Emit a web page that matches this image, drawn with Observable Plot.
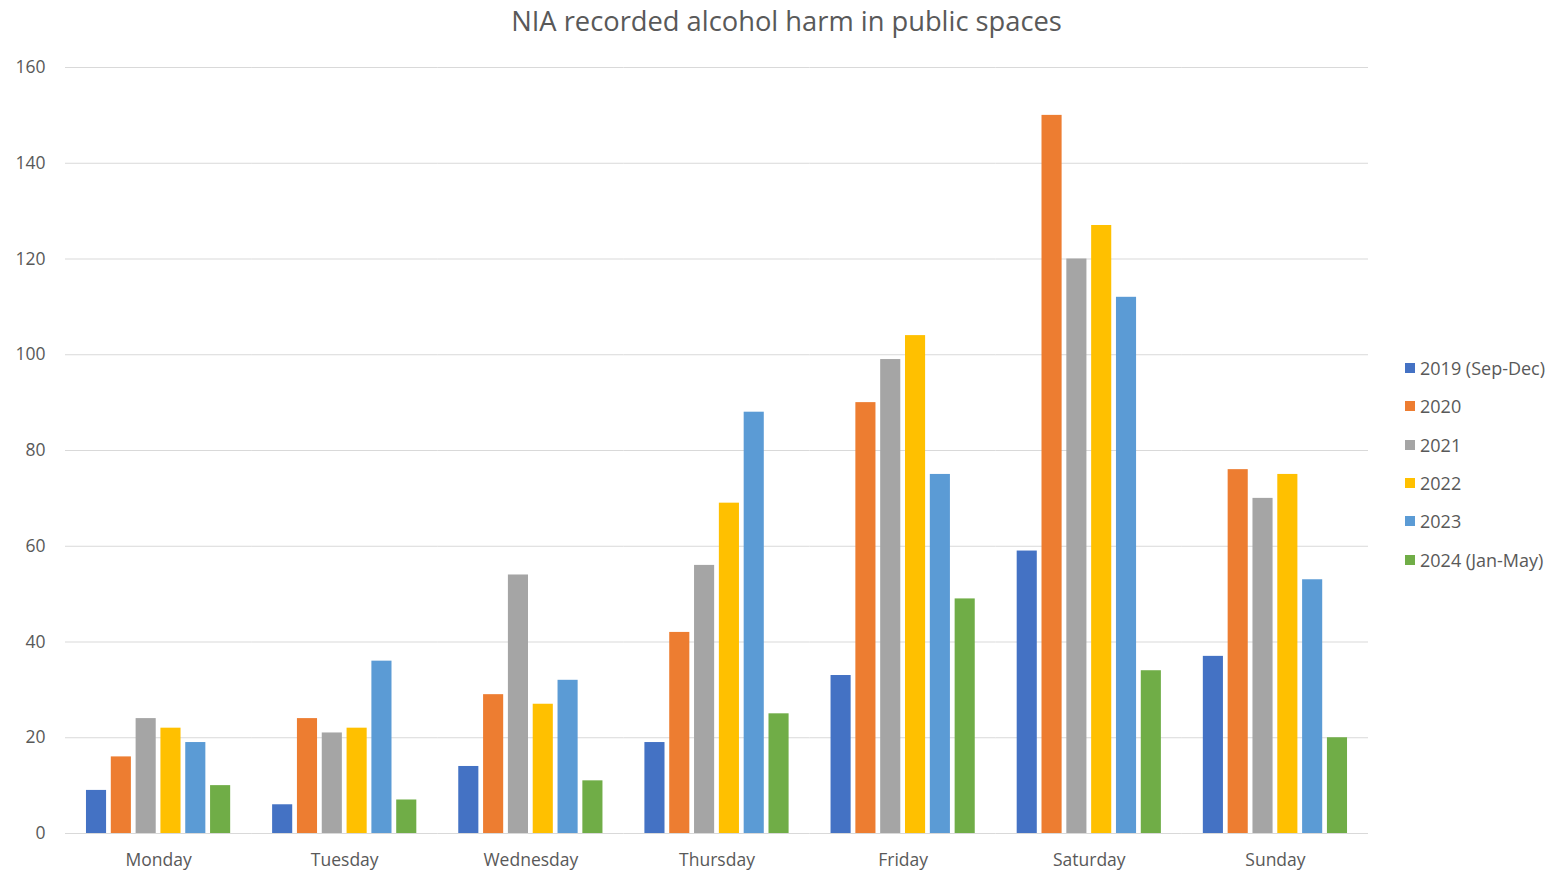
<!DOCTYPE html>
<html>
<head>
<meta charset="utf-8">
<script src="https://cdn.jsdelivr.net/npm/d3@7"></script>
<script src="https://cdn.jsdelivr.net/npm/@observablehq/plot@0.6"></script>
<style>
  body { margin: 0; background: #fff; font-family: "Open Sans", sans-serif; }
  #wrap { position: relative; width: 1553px; height: 872px; }
  #title { height: 45px; line-height: 41px; text-align: center; font-size: 27.3px; color: #595959; padding-left: 20px; }
  #legend { position: absolute; left: 1405px; top: 349px; font-size: 18px; color: #595959; }
  #legend .item { height: 38.3px; display: flex; align-items: center; }
  #legend .sw { width: 10px; height: 10px; margin-right: 5px; }
</style>
</head>
<body>
<div id="wrap">
  <div id="title">NIA recorded alcohol harm in public spaces</div>
  <div id="chart"></div>
  <div id="legend"></div>
</div>
<script>
const days = ["Monday", "Tuesday", "Wednesday", "Thursday", "Friday", "Saturday", "Sunday"];
const series = ["2019 (Sep-Dec)", "2020", "2021", "2022", "2023", "2024 (Jan-May)"];
const colors = ["#4472C4", "#ED7D31", "#A5A5A5", "#FFC000", "#5B9BD5", "#70AD47"];
const v2019 = [9, 6, 14, 19, 33, 59, 37];
const v2020 = [16, 24, 29, 42, 90, 150, 76];
const v2021 = [24, 21, 54, 56, 99, 120, 70];
const v2022 = [22, 22, 27, 69, 104, 127, 75];
const v2023 = [19, 36, 32, 88, 75, 112, 53];
const v2024 = [10, 7, 11, 25, 49, 34, 20];
const yTicks = [0, 20, 40, 60, 80, 100, 120, 140, 160];

const allValues = [v2019, v2020, v2021, v2022, v2023, v2024];
const data = [];
days.forEach((d, i) => {
  series.forEach((s, j) => data.push({day: d, series: s, value: allValues[j][i]}));
});

const chart = Plot.plot({
  width: 1553,
  height: 827,
  marginLeft: 65,
  marginRight: 185,
  marginTop: 22,
  marginBottom: 39,
  style: {fontFamily: "Open Sans, sans-serif", fontSize: "17.5px", color: "#595959", background: "white"},
  fx: {domain: days, padding: 0, round: false, label: null, tickSize: 0, tickPadding: 20},
  x: {domain: series, paddingInner: 0.19, paddingOuter: 0.845, round: false, axis: null},
  y: {domain: [0, 160], ticks: yTicks, tickSize: 0, tickPadding: 20, label: null},
  color: {domain: series, range: colors},
  marks: [
    Plot.ruleY(yTicks, {stroke: "#d9d9d9", strokeWidth: 1}),
    Plot.barY(data, {fx: "day", x: "series", y: "value", fill: "series", inset: 0})
  ]
});
document.getElementById("chart").appendChild(chart);

const legend = document.getElementById("legend");
series.forEach((s, i) => {
  const item = document.createElement("div");
  item.className = "item";
  const sw = document.createElement("span");
  sw.className = "sw";
  sw.style.background = colors[i];
  const t = document.createElement("span");
  t.textContent = s;
  item.appendChild(sw);
  item.appendChild(t);
  legend.appendChild(item);
});
</script>
</body>
</html>
